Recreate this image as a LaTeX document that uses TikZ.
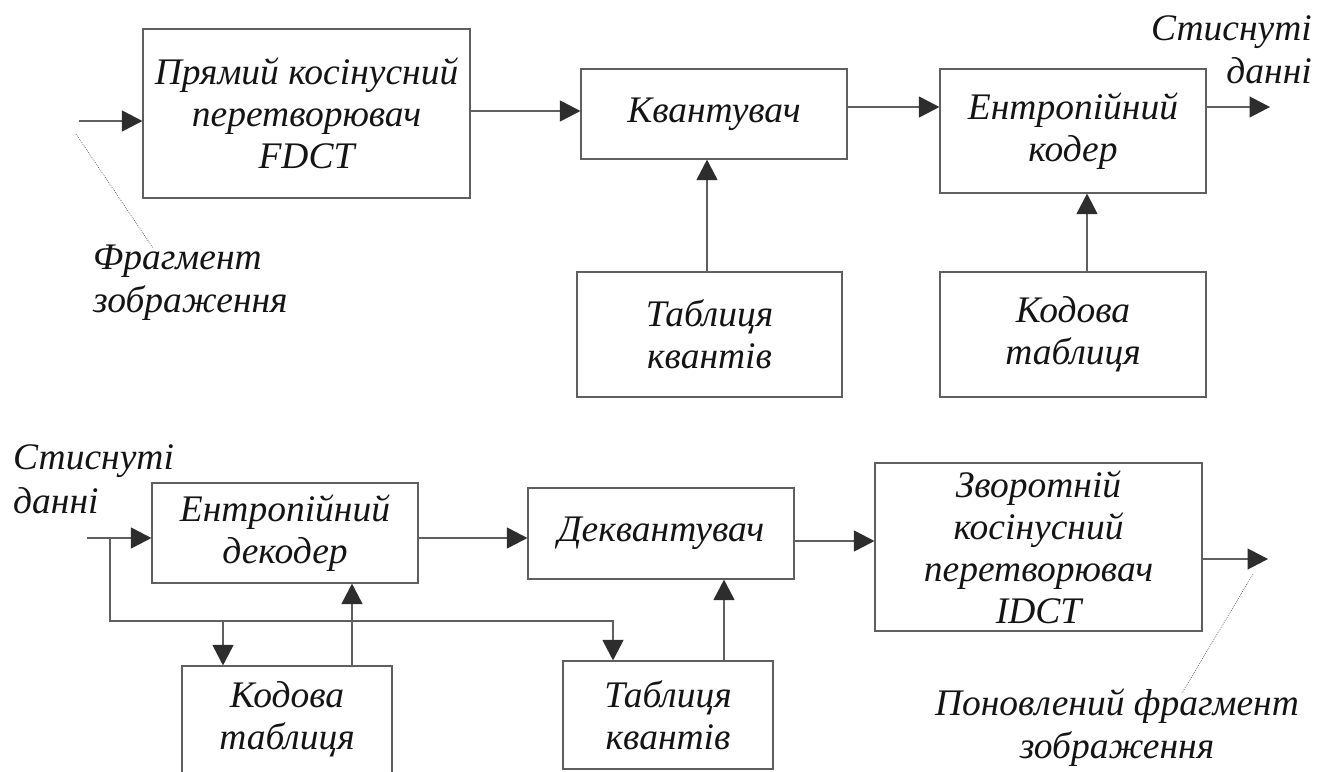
\documentclass[tikz,border=0pt]{standalone}
\usepackage{fontspec}
\setmainfont{Liberation Serif}
\usetikzlibrary{arrows.meta,calc}
\definecolor{linec}{RGB}{95,95,95}
\definecolor{headc}{RGB}{45,45,45}
\definecolor{textc}{RGB}{20,20,20}
\begin{document}
\begin{tikzpicture}[x=1pt,y=-1pt,
  box/.style={draw=linec, line width=1.2pt, inner sep=0pt, align=center,
              font=\itshape\fontsize{37.5}{42}\selectfont, text=textc},
  arr/.style={draw=linec, line width=1.2pt, -{Triangle[length=20.5pt,width=21pt,color=headc]}},
  ln/.style={draw=linec, line width=1.2pt},
  lbl/.style={inner sep=0pt, font=\itshape\fontsize{37.5}{43.5}\selectfont, text=textc},
  dots/.style={draw=linec, line width=0.7pt, dash pattern=on 0.8pt off 1.2pt}]
\useasboundingbox (0,0) rectangle (1333,771);

% top row
\node[box, minimum width=327pt, minimum height=169pt] (fdct) at (306.5,113.5) {Прямий косінусний\\перетворювач\\FDCT};
\node[box, minimum width=266pt, minimum height=90pt] (quant) at (714,114) {Квантувач};
\node[box, minimum width=266pt, minimum height=124pt] (enc) at (1073,131) {Ентропійний\\кодер};
\node[box, minimum width=265pt, minimum height=125pt] (qtab) at (709.5,334.5) {Таблиця\\квантів};
\node[box, minimum width=266pt, minimum height=125pt] (ctab) at (1073,334.5) {Кодова\\таблиця};

\node[lbl, anchor=east, align=right] (outlbl) at (1312,50) {Стиснуті\\данні};
\node[lbl, anchor=west, align=left] (inlbl) at (93,282.5) {Фрагмент\\зображення};

\coordinate (in1) at (79,121);
\draw[arr] (in1) -- (in1 -| fdct.west);
\draw[arr] (fdct.east |- 0,111) -- (quant.west |- 0,111);
\draw[arr] (quant.east |- 0,107) -- (enc.west |- 0,107);
\coordinate (out1) at (1270,107);
\draw[arr] (enc.east |- out1) -- (out1);
\draw[arr] (707,0 |- qtab.north) -- (707,0 |- quant.south);
\draw[arr] (1087,0 |- ctab.north) -- (1087,0 |- enc.south);
\coordinate (d1a) at (76,134);
\coordinate (d1b) at (153,248);
\draw[dots] (d1a) -- (d1b);

% bottom row
\node[box, minimum width=266pt, minimum height=100pt] (dec) at (285,533) {Ентропійний\\декодер};
\node[box, minimum width=266pt, minimum height=91pt] (deq) at (661,533.5) {Деквантувач};
\node[box, minimum width=327pt, minimum height=168pt] (idct) at (1038.5,547) {Зворотній\\косінусний\\перетворювач\\IDCT};
\node[box, minimum width=210pt, minimum height=107pt] (ctab2) at (287,719.5) {Кодова\\таблиця};
\node[box, minimum width=210pt, minimum height=108pt] (qtab2) at (668,715) {Таблиця\\квантів};

\node[lbl, anchor=west, align=left] (in2lbl) at (13,479.5) {Стиснуті\\данні};
\node[lbl, align=center] (out2lbl) at (1117,727.5) {Поновлений фрагмент\\зображення};

\coordinate (in2) at (87,538);
\draw[arr] (in2) -- (in2 -| dec.west);
\coordinate (br) at (110,538);
\coordinate (brd) at (110,621);
\draw[arr] (br) -- (brd) -| (613,0 |- qtab2.north);
\draw[arr] (223,0 |- brd) -- (223,0 |- ctab2.north);
\draw[arr] (352,0 |- ctab2.north) -- (352,0 |- dec.south);
\draw[arr] (dec.east |- 0,538) -- (deq.west |- 0,538);
\draw[arr] (724,0 |- qtab2.north) -- (724,0 |- deq.south);
\draw[arr] (deq.east |- 0,541) -- (idct.west |- 0,541);
\coordinate (out2) at (1268,559);
\draw[arr] (idct.east |- out2) -- (out2);
\coordinate (d2a) at (1253,574);
\coordinate (d2b) at (1182,693);
\draw[dots] (d2a) -- (d2b);
\end{tikzpicture}
\end{document}
